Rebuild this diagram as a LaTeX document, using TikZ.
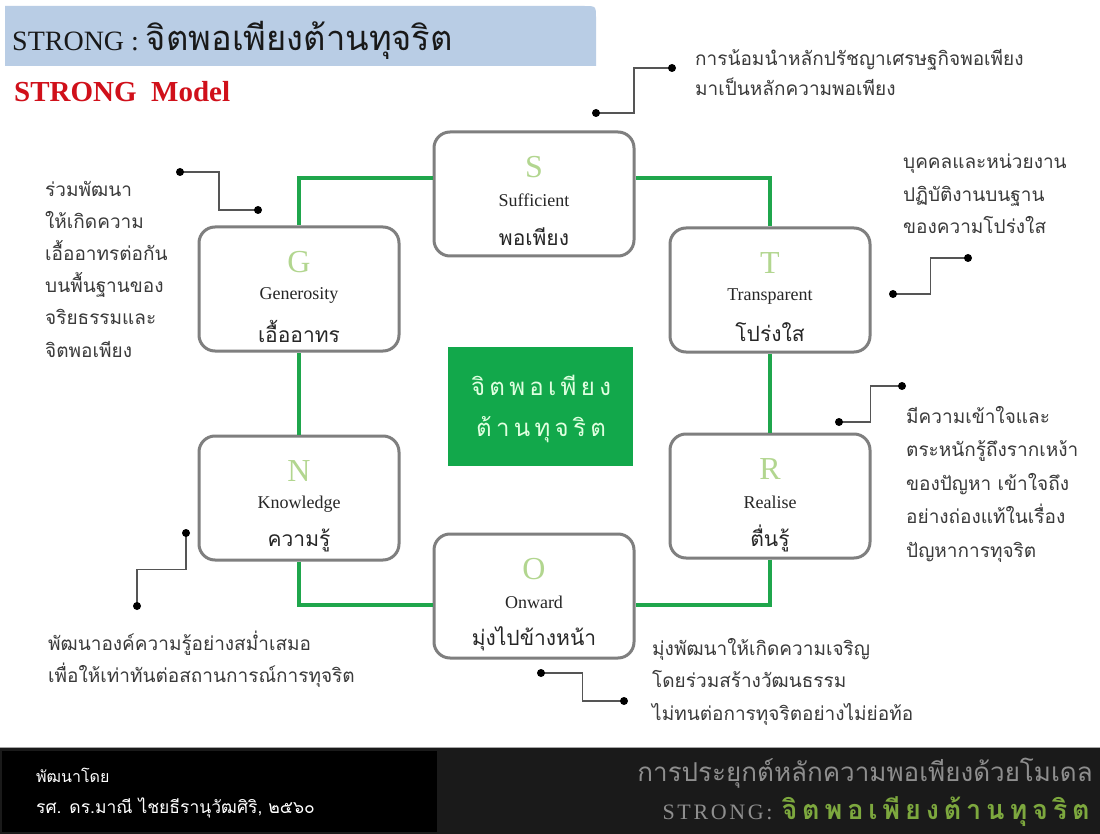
\documentclass[tikz,border=0pt]{standalone}
\usepackage{fontspec}
\setmainfont{Liberation Serif}
\newfontfamily\thai[Script=Thai]{Loma}
\newfontfamily\thaisp[Script=Thai,LetterSpace=18]{Loma}
\newfontfamily\serifsp[LetterSpace=12]{Liberation Serif}
\usetikzlibrary{calc}
\definecolor{bandblue}{HTML}{B9CDE5}
\definecolor{boxgray}{HTML}{7F7F7F}
\definecolor{lgreen}{HTML}{1FA64C}
\definecolor{cgreen}{HTML}{12A84B}
\definecolor{letgreen}{HTML}{B2D68F}
\definecolor{cgray}{HTML}{555555}
\definecolor{txtgray}{HTML}{3A3A3A}
\definecolor{titred}{HTML}{D0101A}
\definecolor{footgreen}{HTML}{7DA83E}
\definecolor{footgray}{HTML}{8E8E8E}
\definecolor{footdark}{HTML}{1A1A1A}
\tikzset{
  mbox/.style={draw=boxgray, line width=3pt, rounded corners=16pt, minimum width=200pt, minimum height=124pt, fill=white},
  gline/.style={draw=lgreen, line width=3.5pt},
  cline/.style={draw=cgray, line width=1.6pt},
  dotn/.style={circle, fill=black, inner sep=0pt, minimum size=8pt},
  letter/.style={text=letgreen, inner sep=0pt, font=\fontsize{32}{32}\selectfont},
  eng/.style={text=black!85, inner sep=0pt, font=\fontsize{18}{18}\selectfont},
  thb/.style={text=black!85, inner sep=0pt, font=\thai\fontsize{21}{21}\selectfont},
  callout/.style={anchor=base west, align=left, text=txtgray, inner sep=0pt},
}
\newcommand\mybox[5]{%
  \node[mbox] (#1) at (#2) {};
  \node[letter] (#1l) at ($(#1.north)+(0,37)$) {#3};
  \node[eng] (#1e) at ($(#1.north)+(0,70)$) {#4};
  \node[thb] (#1t) at ($(#1.north)+(0,106)$) {#5};
}
\begin{document}
\begin{tikzpicture}[x=1pt,y=-1pt]
\useasboundingbox (0,0) rectangle (1100,834);
\fill[white] (0,0) rectangle (1100,834);
% title band
\fill[bandblue] (5,66) -- (5,6) -- (584,6) .. controls (596,6) .. (596,18) -- (596,66) -- cycle;
\node[anchor=west, inner sep=0pt, text=black!90] (title) at (12,40)
  {\fontsize{28}{28}\selectfont STRONG : {\thai\fontsize{34.5}{34.5}\selectfont จิตพอเพียงต้านทุจริต}};
\node[anchor=west, inner sep=0pt, text=titred] (model) at (14,92)
  {\fontsize{29}{29}\selectfont\bfseries STRONG\ \ Model};

% boxes
\mybox{S}{534,194}{S}{Sufficient}{พอเพียง}
\mybox{T}{770,290}{T}{Transparent}{โปร่งใส}
\mybox{R}{770,496}{R}{Realise}{ตื่นรู้}
\mybox{O}{534,596}{O}{Onward}{มุ่งไปข้างหน้า}
\mybox{N}{299,498}{N}{Knowledge}{ความรู้}
\mybox{G}{299,289}{G}{Generosity}{เอื้ออาทร}

% green connectors
\draw[gline] ([yshift=16pt]S.west) -| (G.north);
\draw[gline] ([yshift=16pt]S.east) -| (T.north);
\draw[gline] (T.south) -- (R.north);
\draw[gline] (R.south) |- ([yshift=-9pt]O.east);
\draw[gline] (N.south) |- ([yshift=-9pt]O.west);
\draw[gline] (N.north) -- (G.south);

% centre box
\node[fill=cgreen, minimum width=185pt, minimum height=119pt, inner sep=0pt] (C) at (540.5,406.5) {};
\node[text=white!88!green, inner sep=0pt, font=\thaisp\fontsize{24}{24}\selectfont] (C1) at (541,385) {จิตพอเพียง};
\node[text=white!88!green, inner sep=0pt, font=\thaisp\fontsize{24}{24}\selectfont] (C2) at (541,430) {ต้านทุจริต};

% callout connectors
\coordinate (sa) at (596,113); \coordinate (sb) at (672,68);
\coordinate (ga) at (180,172); \coordinate (gb) at (258,210);
\coordinate (ta) at (893,294); \coordinate (tb) at (968,258);
\coordinate (ra) at (839,422); \coordinate (rb) at (902,386);
\coordinate (oa) at (541,673); \coordinate (ob) at (624,701);
\coordinate (na) at (186,533); \coordinate (nb) at (137,606);
\draw[cline] (sa) -| ($(sa)!0.5!(sb)$) |- (sb);
\draw[cline] (ga) -| ($(ga)!0.5!(gb)$) |- (gb);
\draw[cline] (ta) -| ($(ta)!0.5!(tb)$) |- (tb);
\draw[cline] (ra) -| ($(ra)!0.5!(rb)$) |- (rb);
\draw[cline] (oa) -| ($(oa)!0.5!(ob)$) |- (ob);
\draw[cline] (na) |- ($(na)!0.5!(nb)$) -| (nb);
\foreach \p in {sa,sb,ga,gb,ta,tb,ra,rb,oa,ob,na,nb} {\node[dotn] (d\p) at (\p) {};}

% callout texts (anchor = baseline of last line)
\node[callout, font=\thai\fontsize{19}{30}\selectfont] (sx) at (695,96)
  {การน้อมนำหลักปรัชญาเศรษฐกิจพอเพียง\\มาเป็นหลักความพอเพียง};
\node[callout, font=\thai\fontsize{19}{32.2}\selectfont] (gx) at (45,357)
  {ร่วมพัฒนา\\ให้เกิดความ\\เอื้ออาทรต่อกัน\\บนพื้นฐานของ\\จริยธรรมและ\\จิตพอเพียง};
\node[callout, font=\thai\fontsize{19}{32.5}\selectfont] (tx) at (903,234)
  {บุคคลและหน่วยงาน\\ปฏิบัติงานบนฐาน\\ของความโปร่งใส};
\node[callout, font=\thai\fontsize{19}{33.5}\selectfont] (rx) at (906,557)
  {มีความเข้าใจและ\\ตระหนักรู้ถึงรากเหง้า\\ของปัญหา เข้าใจถึง\\อย่างถ่องแท้ในเรื่อง\\ปัญหาการทุจริต};
\node[callout, font=\thai\fontsize{19}{32}\selectfont] (nx) at (48,682)
  {พัฒนาองค์ความรู้อย่างสม่ำเสมอ\\เพื่อให้เท่าทันต่อสถานการณ์การทุจริต};
\node[callout, font=\thai\fontsize{19}{32.5}\selectfont] (ox) at (652,720)
  {มุ่งพัฒนาให้เกิดความเจริญ\\โดยร่วมสร้างวัฒนธรรม\\ไม่ทนต่อการทุจริตอย่างไม่ย่อท้อ};

% footer
\fill[footdark] (0,748) rectangle (1100,834);
\draw[black!35, line width=1pt] (0,747.5) -- (1100,747.5);
\fill[black] (2,751) rectangle (437,832);
\node[anchor=west, inner sep=0pt, text=white, font=\thai\fontsize{16}{16}\selectfont] (f1) at (36,775) {พัฒนาโดย};
\node[anchor=west, inner sep=0pt, text=white, font=\thai\fontsize{17.5}{17.5}\selectfont] (f2) at (36,808) {รศ. ดร.มาณี ไชยธีรานุวัฒศิริ, ๒๕๖๐};
\node[anchor=east, inner sep=0pt, text=footgray, font=\thai\fontsize{26}{26}\selectfont] (f3) at (1093,773) {การประยุกต์หลักความพอเพียงด้วยโมเดล};
\node[anchor=east, inner sep=0pt] (f4) at (1090,812)
  {{\serifsp\fontsize{22}{22}\selectfont\color{footgray}STRONG:}\hspace{9pt}{\thaisp\fontsize{27}{27}\selectfont\bfseries\color{footgreen}จิตพอเพียงต้านทุจริต}};
\end{tikzpicture}
\end{document}
